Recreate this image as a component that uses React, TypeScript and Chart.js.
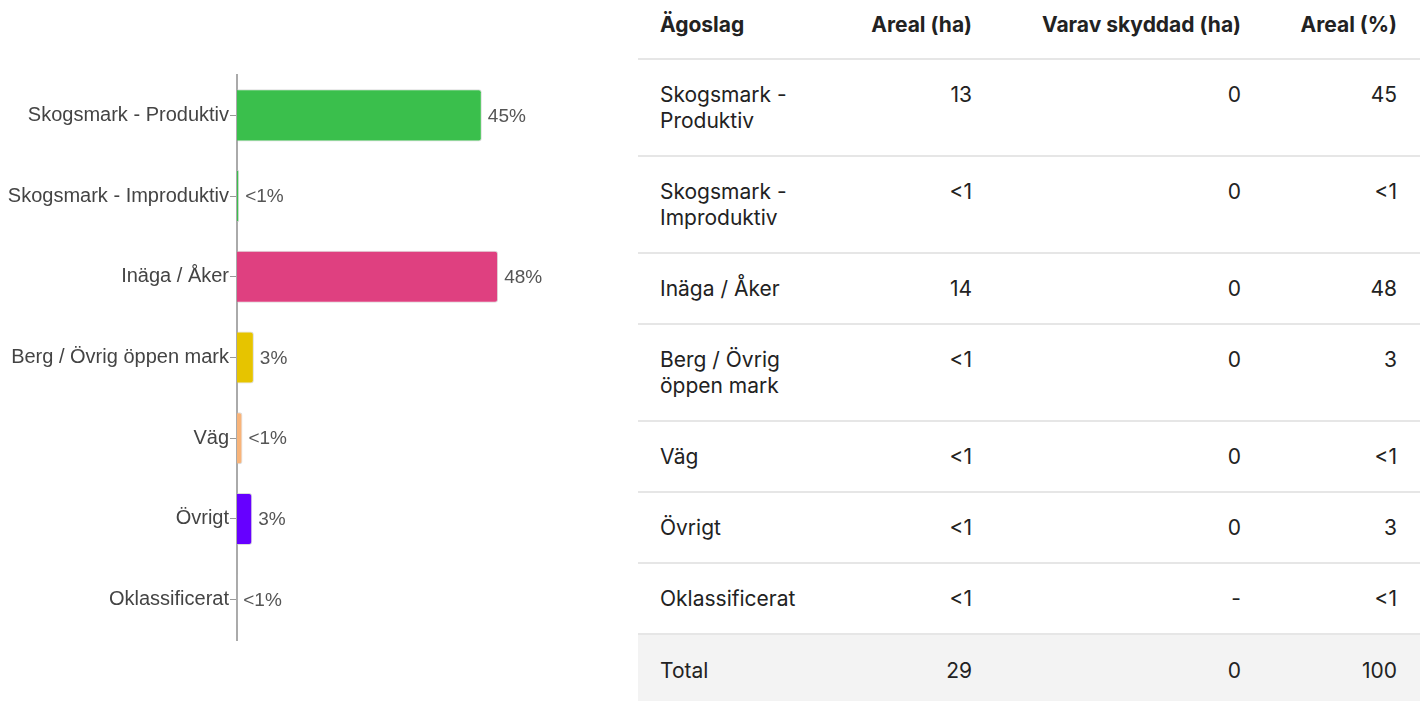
import React, { useEffect, useRef } from "react";
import { Chart, registerables } from "chart.js";

Chart.register(...registerables);

const categories = [
  "Skogsmark - Produktiv",
  "Skogsmark - Improduktiv",
  "Inäga / Åker",
  "Berg / Övrig öppen mark",
  "Väg",
  "Övrigt",
  "Oklassificerat",
];
const percentValues = [45, 0.4, 48, 3.1, 1.0, 2.8, 0.05];
const percentLabels = ["45%", "<1%", "48%", "3%", "<1%", "3%", "<1%"];
const barColors = ["#3abf4c", "#3abf4c", "#df4080", "#e6c400", "#f8b47a", "#6600ff", "#dddddd"];
const xMax = 70.4;

const tableHeaders = ["Ägoslag", "Areal (ha)", "Varav skyddad (ha)", "Areal (%)"];
const tableNames = [
  "Skogsmark - Produktiv",
  "Skogsmark - Improduktiv",
  "Inäga / Åker",
  "Berg / Övrig öppen mark",
  "Väg",
  "Övrigt",
  "Oklassificerat",
];
const tableAreal = ["13", "<1", "14", "<1", "<1", "<1", "<1"];
const tableSkyddad = ["0", "0", "0", "0", "0", "0", "-"];
const tablePercent = ["45", "<1", "48", "3", "<1", "3", "<1"];
const totalRow = ["Total", "29", "0", "100"];

const valueLabelPlugin = {
  id: "valueLabels",
  afterDatasetsDraw(chart: any) {
    const ctx = chart.ctx;
    const meta = chart.getDatasetMeta(0);
    ctx.save();
    ctx.font = "19px 'Liberation Sans', Arial, sans-serif";
    ctx.fillStyle = "#555555";
    ctx.textAlign = "left";
    ctx.textBaseline = "middle";
    meta.data.forEach((bar: any, i: number) => {
      ctx.fillText(percentLabels[i], bar.x + 6, bar.y + 1);
    });
    ctx.restore();
  },
};

function BarChart() {
  const ref = useRef<HTMLCanvasElement | null>(null);
  useEffect(() => {
    if (!ref.current) return;
    const chart = new Chart(ref.current, {
      type: "bar",
      data: {
        labels: categories,
        datasets: [
          {
            data: percentValues,
            backgroundColor: barColors,
            borderColor: "rgba(190,190,190,0.55)",
            borderWidth: 1,
            borderRadius: 3,
            borderSkipped: "start",
            barPercentage: 0.645,
            categoryPercentage: 1,
          },
        ],
      },
      options: {
        indexAxis: "y",
        animation: false,
        responsive: false,
        maintainAspectRatio: false,
        layout: { padding: { top: 75, bottom: 61, left: 0, right: 10 } },
        plugins: { legend: { display: false }, tooltip: { enabled: false } },
        scales: {
          x: { display: false, min: 0, max: xMax },
          y: {
            afterFit: (scale: any) => {
              scale.width = 237;
            },
            border: { display: true, color: "#aaaaaa", width: 2 },
            grid: { offset: false, drawOnChartArea: false, drawTicks: true, tickLength: 7, color: "#999999" },
            ticks: {
              padding: 1,
              color: "#444444",
              font: { family: "'Liberation Sans', Arial, sans-serif", size: 20 },
            },
          },
        },
      },
      plugins: [valueLabelPlugin],
    });
    return () => chart.destroy();
  }, []);
  return <canvas ref={ref} width={630} height={701} style={{ position: "absolute", left: 0, top: 0 }} />;
}

const cellBase: React.CSSProperties = {
  padding: "22px 22px 21px 22px",
  lineHeight: "26px",
  borderBottom: "2px solid #e6e6e6",
  verticalAlign: "top",
  fontSize: 21,
  color: "#222",
};

export default function App() {
  const colWidths = [204, 152, 269, 157];
  return (
    <div style={{ position: "relative", width: 1421, height: 701, overflow: "hidden", background: "#fff" }}>
      <style>{`body{margin:0;}`}</style>
      <BarChart />
      <table
        style={{
          position: "absolute",
          left: 638,
          top: 0,
          width: 782,
          borderCollapse: "collapse",
          tableLayout: "fixed",
          fontFamily: "Inter, 'Noto Sans', sans-serif",
        }}
      >
        <colgroup>
          {colWidths.map((w, i) => (
            <col key={i} style={{ width: w }} />
          ))}
        </colgroup>
        <thead>
          <tr>
            {tableHeaders.map((h, i) => (
              <th
                key={i}
                style={{
                  ...cellBase,
                  padding: "12px 22px 20px 22px",
                  fontWeight: 700,
                  textAlign: i === 0 ? "left" : "right",
                  paddingRight: i === 3 ? 23 : 22,
                }}
              >
                {h}
              </th>
            ))}
          </tr>
        </thead>
        <tbody>
          {tableNames.map((n, r) => (
            <tr key={r}>
              <td style={{ ...cellBase, textAlign: "left" }}>{n}</td>
              <td style={{ ...cellBase, textAlign: "right" }}>{tableAreal[r]}</td>
              <td style={{ ...cellBase, textAlign: "right" }}>{tableSkyddad[r]}</td>
              <td style={{ ...cellBase, textAlign: "right", paddingRight: 23 }}>{tablePercent[r]}</td>
            </tr>
          ))}
          <tr style={{ background: "#f3f3f3" }}>
            {totalRow.map((t, i) => (
              <td
                key={i}
                style={{
                  ...cellBase,
                  borderBottom: "none",
                  padding: "23px 22px 24px 22px",
                  paddingRight: i === 3 ? 23 : 22,
                  textAlign: i === 0 ? "left" : "right",
                }}
              >
                {t}
              </td>
            ))}
          </tr>
        </tbody>
      </table>
    </div>
  );
}
